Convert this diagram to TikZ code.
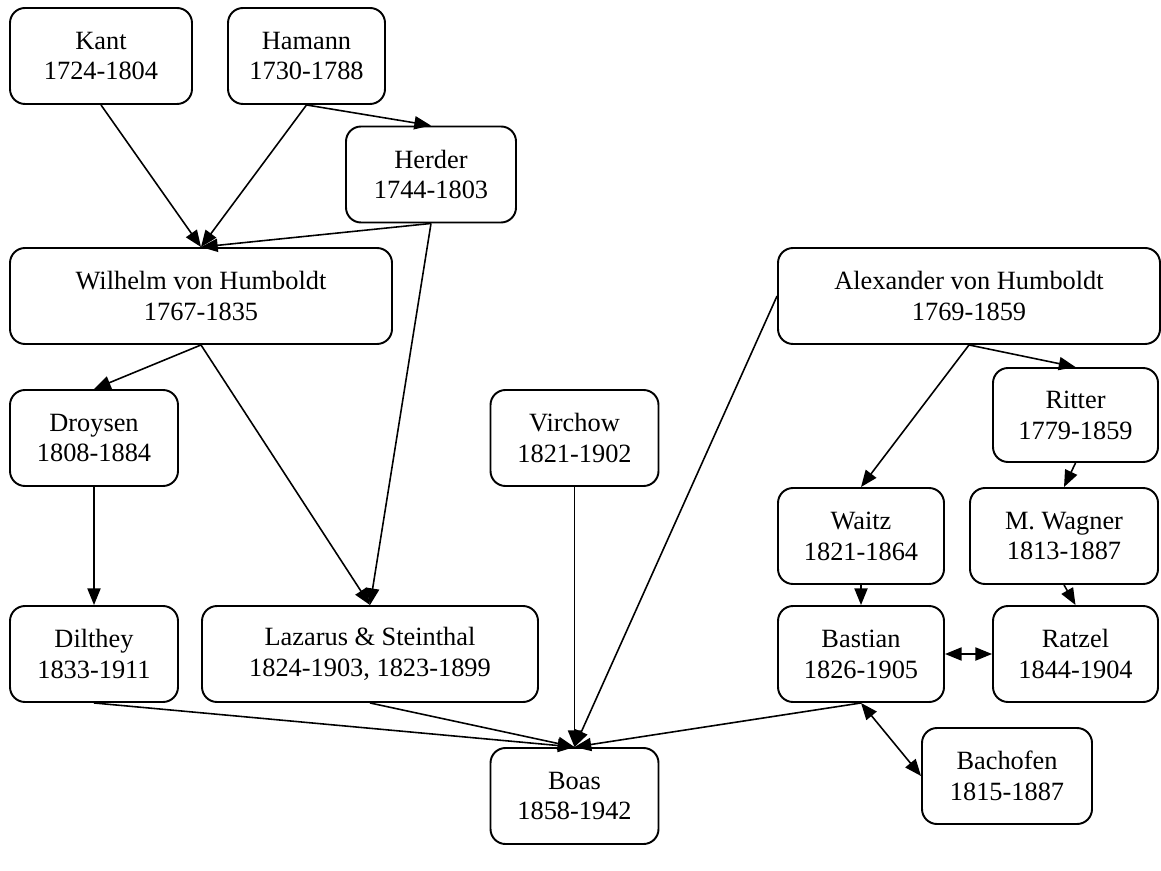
\documentclass[tikz,border=0pt]{standalone}
\usepackage{fontspec}
\setmainfont{Liberation Serif}
\usetikzlibrary{arrows.meta}
\tikzset{
	person/.style={draw, line width=1.1pt, rounded corners=0.3cm, align=center,
		minimum width=3.36cm, minimum height=1.92cm, inner sep=0pt,
		font=\fontsize{15}{17.6}\selectfont},
	infl/.style={line width=0.9pt, -{Triangle[length=9.5pt,width=7.5pt]}},
	mutual/.style={line width=0.9pt, {Triangle[length=9.5pt,width=7.5pt]}-{Triangle[length=9.5pt,width=7.5pt]}}
}
\begin{document}
\begin{tikzpicture}
	\useasboundingbox (0,0) rectangle (23.22,-17.42);
	
	\node[person, minimum width=3.64cm] (kant) at (2.02,-1.12) {Kant\\1724-1804};
	\node[person, minimum width=3.14cm] (hamann) at (6.13,-1.12) {Hamann\\1730-1788};
	\node[person, minimum width=3.40cm] (herder) at (8.62,-3.49) {Herder\\1744-1803};
	\node[person, minimum width=7.64cm] (wvh) at (4.02,-5.92) {Wilhelm von Humboldt\\1767-1835};
	\node[person, minimum width=7.64cm] (avh) at (19.38,-5.92) {Alexander von Humboldt\\1769-1859};
	\node[person, minimum width=3.30cm, minimum height=1.88cm] (ritter) at (21.51,-8.30) {Ritter\\1779-1859};
	\node[person] (droysen) at (1.88,-8.76) {Droysen\\1808-1884};
	\node[person] (virchow) at (11.49,-8.76) {Virchow\\1821-1902};
	\node[person, minimum width=3.32cm] (waitz) at (17.22,-10.72) {Waitz\\1821-1864};
	\node[person, minimum width=3.76cm] (wagner) at (21.28,-10.72) {M. Wagner\\1813-1887};
	\node[person] (dilthey) at (1.88,-13.08) {Dilthey\\1833-1911};
	\node[person, minimum width=6.72cm] (lazarus) at (7.40,-13.08) {Lazarus \& Steinthal\\1824-1903, 1823-1899};
	\node[person, minimum width=3.32cm] (bastian) at (17.22,-13.08) {Bastian\\1826-1905};
	\node[person, minimum width=3.30cm] (ratzel) at (21.51,-13.08) {Ratzel\\1844-1904};
	\node[person, minimum width=3.40cm] (bachofen) at (20.14,-15.52) {Bachofen\\1815-1887};
	\node[person] (boas) at (11.49,-15.92) {Boas\\1858-1942};
	
	% left tradition
	\draw[infl] (kant.south) -- (wvh.north);
	\draw[infl] (hamann.south) -- (wvh.north);
	\draw[infl] (hamann.south) -- (herder.north);
	\draw[infl] (herder.south) -- (wvh.north);
	\draw[infl] (herder.south) -- (lazarus.north);
	\draw[infl] (wvh.south) -- (droysen.north);
	\draw[infl] (wvh.south) -- (lazarus.north);
	\draw[infl] (droysen.south) -- (dilthey.north);
	
	% right tradition
	\draw[infl] (avh.south) -- (waitz.north);
	\draw[infl] (avh.south) -- (ritter.north);
	\draw[infl] (ritter.south) -- (wagner.north);
	\draw[infl] (wagner.south) -- (ratzel.north);
	\draw[infl] (waitz.south) -- (bastian.north);
	\draw[mutual] (bastian.east) -- (ratzel.west);
	\draw[mutual] (bastian.south) -- (bachofen.west);
	
	% into Boas
	\draw[infl] (dilthey.south) -- (boas.north);
	\draw[infl] (lazarus.south) -- (boas.north);
	\draw[infl] (virchow.south) -- (boas.north);
	\draw[infl] (avh.west) -- (boas.north);
	\draw[infl] (bastian.south) -- (boas.north);
\end{tikzpicture}
\end{document}
